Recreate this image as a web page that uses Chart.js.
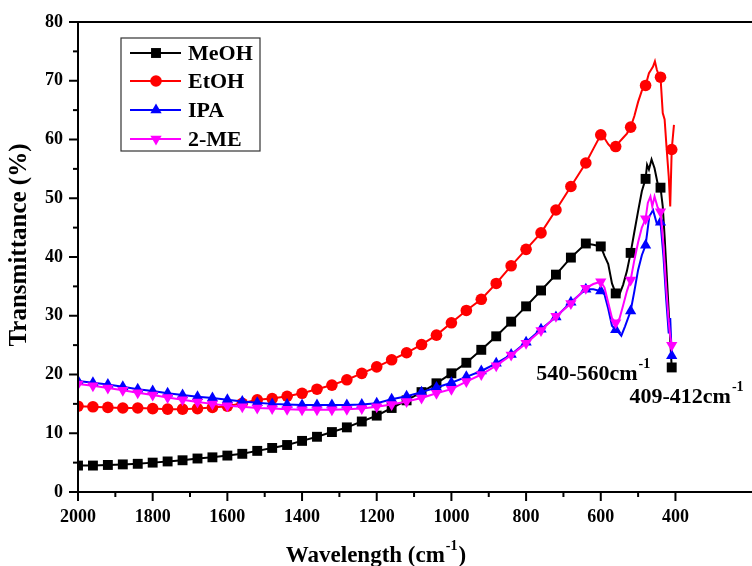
<!DOCTYPE html>
<html><head><meta charset="utf-8">
<script src="https://cdn.jsdelivr.net/npm/chart.js@4.4.1/dist/chart.umd.min.js"></script>
<style>html,body{margin:0;padding:0;background:#fff}canvas{display:block}</style>
</head><body>
<canvas id="c" width="752" height="566"></canvas>
<script>
const seriesNames = ['MeOH', 'EtOH', 'IPA', '2-ME'];
const wavenumber = [2000,1960,1920,1880,1840,1800,1760,1720,1680,1640,1600,1560,1520,1480,1440,1400,1360,1320,1280,1240,1200,1160,1120,1080,1040,1000,960,920,880,840,800,760,720,680,640];
const meoh = [4.5,4.5,4.6,4.7,4.8,5.0,5.2,5.4,5.7,5.9,6.2,6.5,7.0,7.5,8.0,8.7,9.4,10.2,11.0,12.0,13.0,14.3,15.6,17.0,18.5,20.2,22.0,24.2,26.5,29.0,31.6,34.3,37.0,39.9,42.3];
const etoh = [14.6,14.5,14.4,14.3,14.3,14.2,14.1,14.1,14.2,14.4,14.6,15.1,15.7,15.9,16.3,16.8,17.5,18.2,19.1,20.2,21.3,22.5,23.7,25.1,26.7,28.8,30.9,32.8,35.5,38.5,41.3,44.1,48.0,52.0,56.0];
const ipa  = [18.9,18.6,18.3,17.9,17.5,17.2,16.8,16.5,16.2,16.0,15.7,15.4,15.2,15.0,14.9,14.8,14.8,14.8,14.8,14.9,15.1,15.8,16.3,17.0,17.8,18.6,19.6,20.6,21.9,23.4,25.5,27.7,29.8,32.3,34.5];
const me2  = [18.4,18.1,17.7,17.3,16.9,16.5,16.1,15.7,15.3,15.0,14.7,14.5,14.3,14.2,14.1,14.0,14.0,14.0,14.1,14.2,14.5,14.9,15.4,16.0,16.8,17.5,18.8,20.0,21.5,23.3,25.3,27.5,29.9,32.1,34.7];

const meohTailX = [620,600,590,580,570,560,550,540,530,520,510,500,490,480,476,471,464,456,448,440,434,429,420,414,410];
const meohTailY = [42.1,41.8,40.2,38.8,35.5,33.8,33.6,35.3,37.6,40.7,44.3,47.8,51.2,53.3,55.7,54.9,56.6,55.1,52.6,51.8,48.6,43.5,33.0,26.0,21.2];
const etohTailX = [620,600,590,580,570,560,550,540,530,520,510,500,490,480,471,466,460,455,450,445,440,434,429,424,418,414,410,404];
const etohTailY = [58.4,60.8,60.2,59.2,58.5,58.8,59.6,60.3,61.0,62.1,64.0,66.4,68.3,69.2,71.3,71.8,72.4,73.3,71.9,71.0,70.6,64.5,63.4,58.8,53.7,48.6,58.3,62.5];
const ipaTailX = [620,600,590,580,570,560,550,545,535,520,510,500,490,480,470,460,450,440,432,425,418,414,410];
const ipaTailY = [34.5,34.2,33.6,31.2,28.3,27.6,27.0,26.6,28.2,30.8,34.2,37.8,40.3,42.0,46.9,48.0,45.7,45.9,40.0,33.0,27.0,29.6,23.2];
const me2TailX = [620,600,590,580,570,560,550,540,530,520,510,500,490,480,474,467,462,456,448,440,432,425,418,414,410];
const me2TailY = [35.4,35.8,34.8,32.2,29.6,28.8,29.5,31.8,34.2,36.1,39.5,42.5,45.0,46.5,49.2,50.3,48.6,50.3,48.5,47.7,42.0,35.0,29.0,26.5,25.0];

const xTickValues = [2000,1900,1800,1700,1600,1500,1400,1300,1200,1100,1000,900,800,700,600,500,400];
const yTickValues = [0,5,10,15,20,25,30,35,40,45,50,55,60,65,70,75,80];
const annotTexts = ['540-560cm', '409-412cm'];
const annotX = [773, 523];
const annotY = [19.1, 15.1];

const colors = ['#000000', '#ff0000', '#0000ff', '#ff00ff'];
const styles = ['rect', 'circle', 'triangle', 'triangle'];
const rotations = [0, 0, 0, 180];
const radii = [7, 5.8, 6.5, 6.5];

function build(mainY, tx, ty) {
  return wavenumber.map((x, i) => ({x: x, y: mainY[i]})).concat(tx.map((x, i) => ({x: x, y: ty[i]})));
}
const allData = [build(meoh, meohTailX, meohTailY), build(etoh, etohTailX, etohTailY), build(ipa, ipaTailX, ipaTailY), build(me2, me2TailX, me2TailY)];

const FONT = '"Liberation Serif", "Times New Roman", serif';

const datasets = seriesNames.map((name, k) => ({
  label: name,
  data: allData[k],
  borderColor: colors[k],
  backgroundColor: colors[k],
  borderWidth: 2,
  pointStyle: styles[k],
  rotation: rotations[k],
  pointBorderWidth: 0,
  pointRadius: (ctx) => { const v = ctx.raw ? ctx.raw.x : 0; return (v % 40 === 0 || v === 410) ? radii[k] : 0; },
  pointHoverRadius: 0,
  tension: 0,
  order: 3 - k
}));

const decor = {
  id: 'decor',
  afterDraw(chart) {
    const {ctx, chartArea: a, scales: {x, y}} = chart;
    ctx.save();
    ctx.strokeStyle = '#000';
    ctx.lineWidth = 2;
    ctx.lineCap = 'butt';
    ctx.beginPath();
    ctx.moveTo(a.left, a.top); ctx.lineTo(a.right, a.top);
    ctx.moveTo(a.left, a.top - 1); ctx.lineTo(a.left, a.bottom + 1);
    ctx.moveTo(a.left - 1, a.bottom); ctx.lineTo(a.right, a.bottom);
    ctx.stroke();
    x.ticks.forEach(t => {
      const px = x.getPixelForValue(t.value);
      const len = t.value % 200 === 0 ? 9 : 5;
      ctx.beginPath(); ctx.moveTo(px, a.bottom); ctx.lineTo(px, a.bottom + len); ctx.stroke();
    });
    y.ticks.forEach(t => {
      const py = y.getPixelForValue(t.value);
      const len = t.value % 10 === 0 ? 9 : 5;
      ctx.beginPath(); ctx.moveTo(a.left, py); ctx.lineTo(a.left - len, py); ctx.stroke();
    });
    // legend
    ctx.lineWidth = 1.2;
    ctx.strokeStyle = '#333';
    ctx.strokeRect(121, 38, 139, 113);
    const rows = [53, 81, 110, 139];
    chart.data.datasets.forEach((ds, k) => {
      const ry = rows[k];
      ctx.strokeStyle = colors[k];
      ctx.lineWidth = 2;
      ctx.beginPath(); ctx.moveTo(130, ry); ctx.lineTo(181, ry); ctx.stroke();
      ctx.fillStyle = colors[k];
      Chart.helpers.drawPoint(ctx, {pointStyle: styles[k], rotation: rotations[k], radius: radii[k], borderWidth: 0}, 156, ry);
      ctx.fillStyle = '#000';
      ctx.font = 'bold 22px ' + FONT;
      ctx.textAlign = 'left';
      ctx.textBaseline = 'middle';
      ctx.fillText(ds.label, 188, ry + 1);
    });
    // annotations
    ctx.fillStyle = '#000';
    ctx.textBaseline = 'alphabetic';
    annotTexts.forEach((txt, i) => {
      const px = x.getPixelForValue(annotX[i]);
      const py = y.getPixelForValue(annotY[i]);
      ctx.font = 'bold 22px ' + FONT;
      ctx.textAlign = 'left';
      ctx.fillText(txt, px, py);
      const w = ctx.measureText(txt).width;
      ctx.font = 'bold 14px ' + FONT;
      ctx.fillText('-1', px + w + 1, py - 12);
    });
    // y title
    ctx.save();
    ctx.translate(20, 245);
    ctx.rotate(-Math.PI / 2);
    ctx.font = 'bold 25px ' + FONT;
    ctx.textAlign = 'center';
    ctx.textBaseline = 'middle';
    ctx.fillText('Transmittance (%)', 0, 0);
    ctx.restore();
    // x title
    ctx.font = 'bold 23px ' + FONT;
    const p1 = 'Wavelength (cm', p2 = '-1', p3 = ')';
    const w1 = ctx.measureText(p1).width, w3 = ctx.measureText(p3).width;
    ctx.font = 'bold 14px ' + FONT;
    const w2 = ctx.measureText(p2).width;
    let sx = 376 - (w1 + w2 + w3 + 2) / 2;
    const by = 562;
    ctx.textAlign = 'left';
    ctx.textBaseline = 'alphabetic';
    ctx.font = 'bold 23px ' + FONT;
    ctx.fillText(p1, sx, by);
    ctx.font = 'bold 14px ' + FONT;
    ctx.fillText(p2, sx + w1 + 1, by - 12);
    ctx.font = 'bold 23px ' + FONT;
    ctx.fillText(p3, sx + w1 + w2 + 2, by);
    ctx.restore();
  }
};

new Chart(document.getElementById('c'), {
  type: 'line',
  data: {datasets: datasets},
  options: {
    responsive: false,
    animation: false,
    events: [],
    layout: {autoPadding: false, padding: {left: 0, right: 0, top: 22, bottom: 34}},
    plugins: {legend: {display: false}, tooltip: {enabled: false}},
    scales: {
      x: {
        type: 'linear',
        reverse: true,
        min: 195,
        max: 2000,
        afterBuildTicks: (s) => { s.ticks = xTickValues.map(v => ({value: v})); },
        afterFit: (s) => { s.height = 40; s.paddingLeft = 0; s.paddingRight = 0; },
        grid: {display: false, drawTicks: false},
        border: {display: false},
        ticks: {
          autoSkip: false, maxRotation: 0, padding: 15, color: '#000',
          font: {family: FONT, size: 18, weight: 'bold'},
          callback: (v) => (v % 200 === 0 ? String(v) : '')
        }
      },
      y: {
        type: 'linear',
        min: 0,
        max: 80,
        afterBuildTicks: (s) => { s.ticks = yTickValues.map(v => ({value: v})); },
        afterFit: (s) => { s.width = 78; s.paddingTop = 0; s.paddingBottom = 0; },
        grid: {display: false, drawTicks: false},
        border: {display: false},
        ticks: {
          autoSkip: false, padding: 15, color: '#000',
          font: {family: FONT, size: 18, weight: 'bold'},
          callback: (v) => (v % 10 === 0 ? String(v) : '')
        }
      }
    }
  },
  plugins: [decor]
});
</script>
</body></html>
